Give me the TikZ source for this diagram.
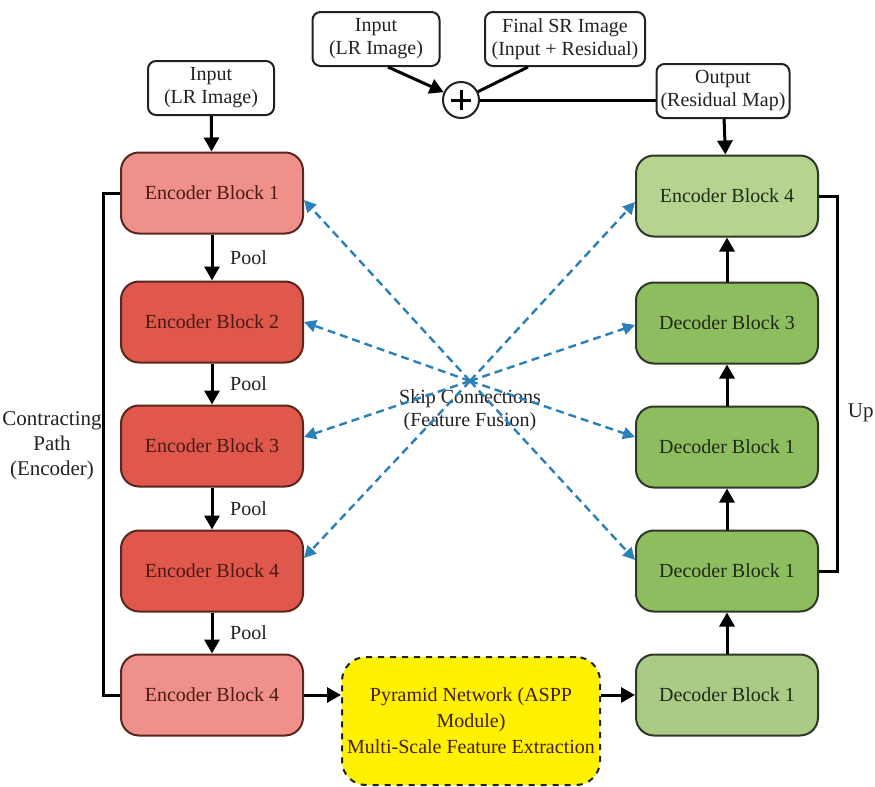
\documentclass[tikz,border=0pt]{standalone}
\usepackage{fontspec}
\setmainfont{Liberation Serif}
\usetikzlibrary{arrows.meta,calc}
\definecolor{encl}{HTML}{EF918A}
\definecolor{encd}{HTML}{E0574C}
\definecolor{encb}{HTML}{5A2620}
\definecolor{enct}{HTML}{4A1A14}
\definecolor{decl}{HTML}{B6D48F}
\definecolor{decm}{HTML}{8EBD60}
\definecolor{decbot}{HTML}{A9CB86}
\definecolor{decb}{HTML}{2E3826}
\definecolor{dect}{HTML}{1F2A17}
\definecolor{aspp}{HTML}{FFF200}
\definecolor{skipc}{HTML}{2B80B9}
\definecolor{ink}{HTML}{222222}
\tikzset{
  blk/.style={draw=#1, line width=1pt, rounded corners=9pt, minimum width=91pt,
    minimum height=40.5pt, align=center, font=\fontsize{10}{12}\selectfont},
  encblk/.style={blk=encb, fill=#1, text=enct},
  decblk/.style={blk=decb, fill=#1, text=dect},
  iobox/.style={draw=ink, line width=1pt, rounded corners=4pt, fill=white, align=center,
    inner sep=2pt, font=\fontsize{10}{11.5}\selectfont, minimum height=27pt, text=ink},
  flow/.style={draw=black, line width=1.5pt, -{Triangle[length=7pt,width=7.5pt]}},
  plainline/.style={draw=black, line width=1.5pt},
  skiparrow/.style={draw=skipc, line width=1.2pt, dash pattern=on 4pt off 2.5pt,
    -{Triangle[length=6pt,width=6pt]}},
  poollbl/.style={right=5pt, font=\fontsize{10}{12}\selectfont, text=ink},
  sidelbl/.style={align=center, font=\fontsize{10.5}{12.5}\selectfont, text=ink}
}
\begin{document}
\begin{tikzpicture}[x=0.5pt,y=-0.5pt]
\useasboundingbox (0,0) rectangle (875,787);
\fill[white] (0,0) rectangle (875,787);

% input / output boxes
\node[iobox, minimum width=63pt] (in1) at (211,88) {Input\\(LR Image)};
\node[iobox, minimum width=63.5pt] (in2) at (376,39) {Input\\(LR Image)};
\node[iobox, minimum width=80pt] (fin) at (565,39) {Final SR Image\\(Input + Residual)};
\node[iobox, minimum width=66.5pt] (out) at (723,91) {Output\\(Residual Map)};
\node[circle, draw=ink, line width=1pt, minimum size=18pt, inner sep=0pt, fill=white] (plus) at (461,100) {};
\draw[line width=1.5pt] ($(plus.center)+(-10,0)$) -- ($(plus.center)+(10,0)$);
\draw[line width=1.5pt] ($(plus.center)+(0,-10)$) -- ($(plus.center)+(0,10)$);

% encoder column
\node[encblk=encl] (e1) at (212,193) {Encoder Block 1};
\node[encblk=encd] (e2) at (212,322) {Encoder Block 2};
\node[encblk=encd] (e3) at (212,446) {Encoder Block 3};
\node[encblk=encd] (e4) at (212,571) {Encoder Block 4};
\node[encblk=encl] (e5) at (212,695) {Encoder Block 4};

% decoder column
\node[decblk=decl] (d4) at (727,196) {Encoder Block 4};
\node[decblk=decm] (d3) at (727,323) {Decoder Block 3};
\node[decblk=decm] (d2) at (727,447) {Decoder Block 1};
\node[decblk=decm] (d1) at (727,571) {Decoder Block 1};
\node[decblk=decbot] (d0) at (727,695) {Decoder Block 1};

% ASPP
\node[draw=ink, dashed, line width=1pt, fill=aspp, rounded corners=12pt, minimum width=129pt,
  minimum height=64pt, inner sep=2pt, align=center, text=enct,
  font=\fontsize{10}{13}\selectfont] (as) at (471,721)
  {Pyramid Network (ASPP\\Module)\\Multi-Scale Feature Extraction};

% labels
\node[sidelbl] (cp) at (52,446) {Contracting\\Path\\(Encoder)};
\node[sidelbl, anchor=east, inner sep=0pt] (up) at (874,413) {Up};
\node[align=center, font=\fontsize{10}{11.5}\selectfont, text=ink] (skl) at (470,410) {Skip Connections\\(Feature Fusion)};

% main flow
\draw[flow] (in1) -- (e1);
\draw[flow] (e1) -- node[poollbl] (p1) {Pool} (e2);
\draw[flow] (e2) -- node[poollbl] (p2) {Pool} (e3);
\draw[flow] (e3) -- node[poollbl] (p3) {Pool} (e4);
\draw[flow] (e4) -- node[poollbl] (p4) {Pool} (e5);
\draw[flow] (e5.east) -- (e5.east -| as.west);
\draw[flow] (as.east |- d0.west) -- (d0.west);
\draw[flow] (d0) -- (d1);
\draw[flow] (d1) -- (d2);
\draw[flow] (d2) -- (d3);
\draw[flow] (d3) -- (d4);
\draw[flow] (out) -- (d4);

% side paths
\draw[plainline] (e1.west) -- ++(-17,0) |- (e5.west);
\draw[plainline] (d4.east) -- ++(18,0) |- (d1.east);

% residual add
\draw[flow] ([xshift=6pt]in2.south) -- (plus);
\draw[plainline] ([xshift=-18.5pt]fin.south) -- (plus);
\draw[plainline] (plus.east) -- (plus.east -| out.west);

% skip connections
\coordinate (hub) at (470,381);
\draw[skiparrow] (hub) -- ([yshift=-3.5pt]e1.east);
\draw[skiparrow] (hub) -- (e2.east);
\draw[skiparrow] (hub) -- ([yshift=4.5pt]e3.east);
\draw[skiparrow] (hub) -- ([yshift=6.5pt]e4.east);
\draw[skiparrow] (hub) -- ([yshift=-3pt]d4.west);
\draw[skiparrow] (hub) -- ([yshift=-1pt]d3.west);
\draw[skiparrow] (hub) -- ([yshift=5pt]d2.west);
\draw[skiparrow] (hub) -- ([yshift=5.5pt]d1.west);
\end{tikzpicture}
\end{document}
